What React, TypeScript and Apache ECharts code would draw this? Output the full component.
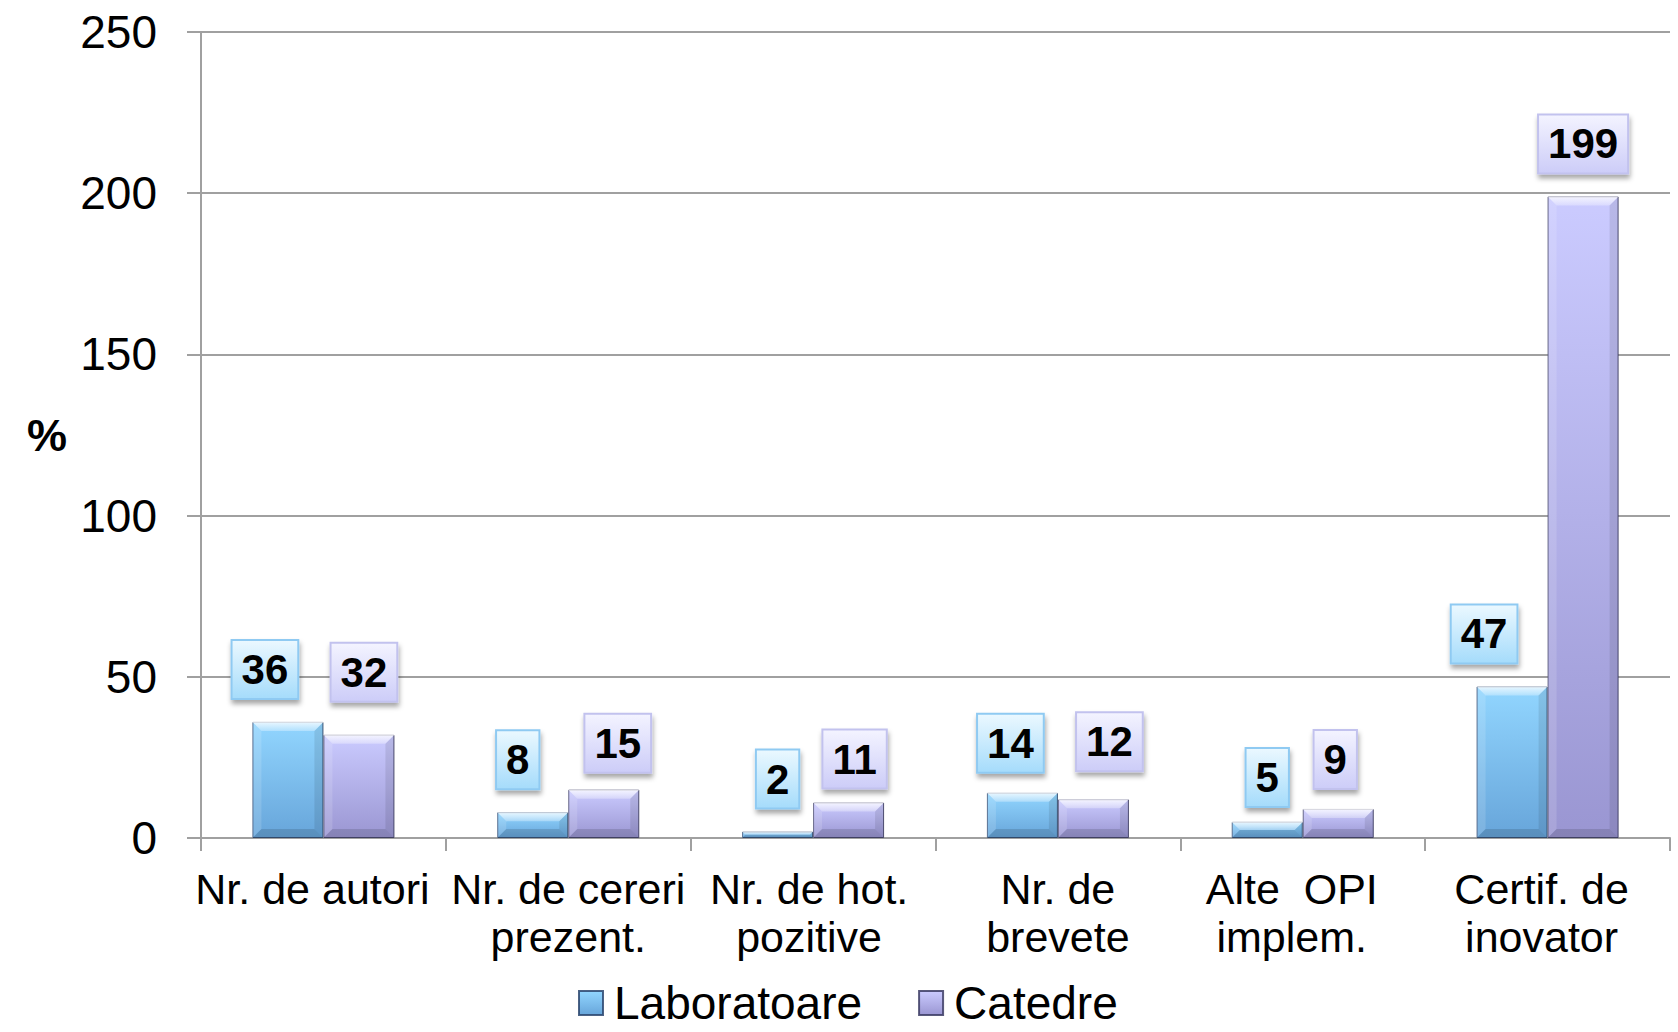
import React, { useEffect, useRef } from 'react';
import * as echarts from 'echarts';

// ---- data ----
const categories = [
  'Nr. de autori',
  'Nr. de cereri\nprezent.',
  'Nr. de hot.\npozitive',
  'Nr. de\nbrevete',
  'Alte  OPI\nimplem.',
  'Certif. de\ninovator',
];
const laboratoare = [36, 8, 2, 14, 5, 47];
const catedre = [32, 15, 11, 12, 9, 199];
const seriesNames = ['Laboratoare', 'Catedre'];
const yMin = 0;
const yMax = 250;
const yInterval = 50;
const yAxisName = '%';

// ---- label nudges (style only, px) ----
const labNudge = [[-23, 0], [-15, 0], [0, 0], [-12, 3], [0, 8], [-28, 0]];
const catNudge = [[5, -10], [14, 6], [6, 9], [16, -5], [-3, 3], [0, 0]];
// horizontal shift of category labels (style only, px; negative = left)
const xLabelShift = [-11, 0, -4, 0, -11, -6];

const FONT = '"Liberation Sans", Arial, Helvetica, sans-serif';
const BAR_FRAC = 0.29;

const lg = (c0: string, c1: string) =>
  new echarts.graphic.LinearGradient(0, 0, 0, 1, [
    { offset: 0, color: c0 },
    { offset: 1, color: c1 },
  ]);

function makeBevel(seriesIdx: number, values: number[]) {
  return {
    type: 'custom',
    silent: true,
    z: 5,
    legendHoverLink: false,
    tooltip: { show: false },
    encode: { x: 0, y: 1 },
    data: values.map((v, i) => [i, v]),
    renderItem: (_params: any, api: any) => {
      const i = api.value(0);
      const v = api.value(1);
      const base = api.coord([i, 0]);
      const top = api.coord([i, v]);
      const catW = api.size([1, 0])[0];
      const bw = catW * BAR_FRAC;
      const x0 = seriesIdx === 0 ? base[0] - bw : base[0];
      const x1 = x0 + bw;
      const y0 = top[1];
      const y1 = base[1];
      const h = y1 - y0;
      const b = Math.max(0, Math.min(9, h / 2, bw / 2));
      return {
        type: 'group',
        children: [
          {
            type: 'polygon',
            shape: { points: [[x0, y0], [x1, y0], [x1 - b, y0 + b], [x0 + b, y0 + b]] },
            style: {
              fill: new echarts.graphic.LinearGradient(0, 0, 0, 1, [
                { offset: 0, color: 'rgba(255,255,255,0.8)' },
                { offset: 1, color: 'rgba(255,255,255,0.3)' },
              ]),
            },
          },
          {
            type: 'polygon',
            shape: { points: [[x0, y0], [x0 + b, y0 + b], [x0 + b, y1 - b], [x0, y1]] },
            style: { fill: 'rgba(255,255,255,0.14)' },
          },
          {
            type: 'polygon',
            shape: { points: [[x1, y0], [x1 - b, y0 + b], [x1 - b, y1 - b], [x1, y1]] },
            style: { fill: 'rgba(0,0,0,0.09)' },
          },
          {
            type: 'polygon',
            shape: { points: [[x0, y1], [x0 + b, y1 - b], [x1 - b, y1 - b], [x1, y1]] },
            style: { fill: 'rgba(0,0,0,0.13)' },
          },
        ],
      };
    },
  };
}

function makeLabel(bg0: string, bg1: string, border: string) {
  return {
    show: true,
    position: 'top',
    distance: 24,
    fontFamily: FONT,
    fontWeight: 'bold',
    fontSize: 42,
    lineHeight: 45,
    color: '#000',
    padding: [6, 9, 6, 9],
    backgroundColor: lg(bg0, bg1),
    borderColor: border,
    borderWidth: 2,
    shadowColor: 'rgba(0,0,0,0.35)',
    shadowBlur: 5,
    shadowOffsetX: 1,
    shadowOffsetY: 4,
  };
}

export default function App() {
  const ref = useRef<HTMLDivElement>(null);

  useEffect(() => {
    if (!ref.current) return;
    const chart = echarts.init(ref.current, undefined, { renderer: 'svg' });

    const labColor = lg('#92d6ff', '#67a5da');
    const catColor = lg('#cbcbff', '#9a96d2');

    const rich: any = {};
    xLabelShift.forEach((s, i) => {
      rich['s' + i] = {
        fontFamily: FONT,
        fontSize: 43,
        lineHeight: 48,
        color: '#000',
        padding: s < 0 ? [0, -2 * s, 0, 0] : [0, 0, 0, 2 * s],
      };
    });

    const option: any = {
      animation: false,
      backgroundColor: '#ffffff',
      grid: { left: 201, right: 8, top: 32, bottom: 194, containLabel: false },
      legend: {
        data: seriesNames,
        left: 578,
        top: 980,
        padding: 0,
        itemGap: 56,
        itemWidth: 24,
        itemHeight: 24,
        icon: 'rect',
        textStyle: {
          fontFamily: FONT,
          fontSize: 46,
          color: '#000',
          lineHeight: 46,
          padding: [0, 0, 0, 6],
        },
      },
      xAxis: {
        type: 'category',
        data: categories,
        axisLine: { show: true, lineStyle: { color: '#a0a0a0', width: 2 } },
        axisTick: { show: true, length: 13, lineStyle: { color: '#a0a0a0', width: 2 } },
        axisLabel: {
          interval: 0,
          margin: 27,
          fontFamily: FONT,
          fontSize: 43,
          lineHeight: 48,
          color: '#000',
          formatter: (v: string, idx: number) =>
            v
              .split('\n')
              .map((line) => `{s${idx}|${line}}`)
              .join('\n'),
          rich,
        },
        splitLine: { show: false },
      },
      yAxis: {
        type: 'value',
        min: yMin,
        max: yMax,
        interval: yInterval,
        name: yAxisName,
        nameLocation: 'middle',
        nameRotate: 0,
        nameGap: 134,
        nameTextStyle: { fontFamily: FONT, fontSize: 45, fontWeight: 'bold', color: '#000' },
        axisLine: { show: true, lineStyle: { color: '#a0a0a0', width: 2 } },
        axisTick: { show: true, length: 14, lineStyle: { color: '#a0a0a0', width: 2 } },
        axisLabel: { margin: 44, fontFamily: FONT, fontSize: 46, color: '#000' },
        splitLine: { show: true, lineStyle: { color: '#a0a0a0', width: 2 } },
      },
      series: [
        {
          name: seriesNames[0],
          type: 'bar',
          barWidth: BAR_FRAC * 100 + '%',
          barGap: '0%',
          z: 2,
          itemStyle: { color: labColor, borderColor: 'rgba(45,70,110,0.85)', borderWidth: 1 },
          label: makeLabel('#eaf8ff', '#a6dcfb', '#8fcaf2'),
          data: laboratoare.map((v, i) => ({ value: v, label: { offset: labNudge[i] } })),
        },
        {
          name: seriesNames[1],
          type: 'bar',
          barWidth: BAR_FRAC * 100 + '%',
          barGap: '0%',
          z: 2,
          itemStyle: { color: catColor, borderColor: 'rgba(60,60,100,0.85)', borderWidth: 1 },
          label: makeLabel('#f3f3ff', '#cdcdf8', '#c2c2ee'),
          data: catedre.map((v, i) => ({ value: v, label: { offset: catNudge[i] } })),
        },
        makeBevel(0, laboratoare),
        makeBevel(1, catedre),
      ],
    };

    chart.setOption(option);
    return () => chart.dispose();
  }, []);

  return (
    <div
      ref={ref}
      style={{ position: 'absolute', left: 0, top: 0, width: 1678, height: 1032, background: '#fff' }}
    />
  );
}
